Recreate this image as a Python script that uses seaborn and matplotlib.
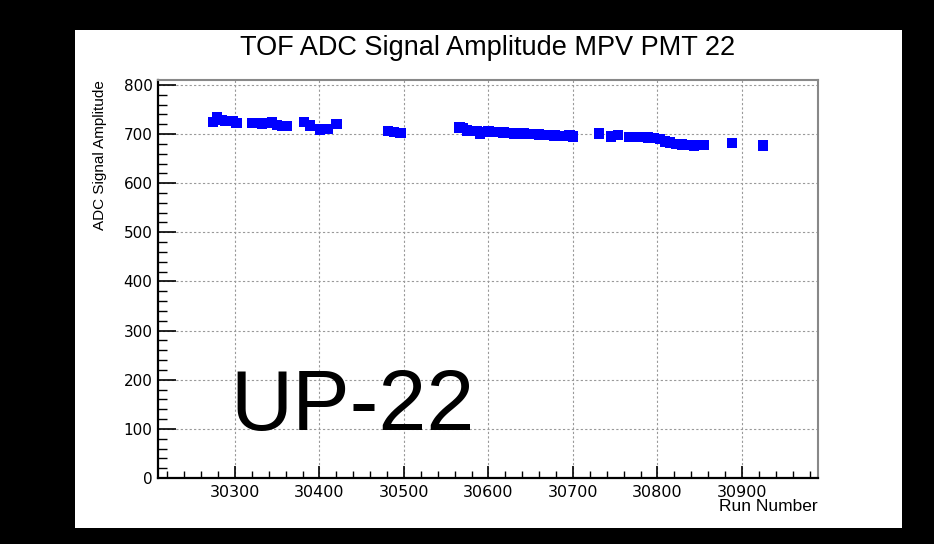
import matplotlib
matplotlib.use("Agg")
import matplotlib.pyplot as plt
from matplotlib.patches import Rectangle
from matplotlib.ticker import MultipleLocator
import seaborn as sns
import pandas as pd

# ---- data ----
runs = [30274, 30279, 30284, 30288, 30297, 30302,
        30320, 30326, 30332, 30338, 30344, 30350, 30356, 30362,
        30382, 30389, 30401, 30410, 30420,
        30481, 30488, 30496,
        30566, 30570, 30575, 30580, 30586, 30590, 30594, 30600, 30606, 30612,
        30618, 30624, 30630, 30636, 30642, 30648, 30654, 30660, 30666, 30672,
        30678, 30684, 30690, 30696, 30700,
        30731, 30745, 30753,
        30767, 30774, 30782, 30789, 30796, 30803, 30809, 30815, 30822, 30829,
        30836, 30843, 30850, 30855,
        30888, 30925]
mpv = [725, 735, 728, 727, 726, 723,
       722, 722, 721, 722, 724, 718, 716, 716,
       725, 717, 709, 710, 720,
       706, 704, 702,
       713, 712, 707, 706, 706, 700, 704, 705, 704, 704,
       703, 702, 701, 702, 701, 700, 700, 699, 698, 698,
       697, 696, 696, 697, 695,
       701, 695, 698,
       694, 694, 694, 693, 692, 690, 685, 683, 680, 679,
       678, 677, 678, 678,
       682, 677]
x_ticks = [30300, 30400, 30500, 30600, 30700, 30800, 30900]
y_ticks = [0, 100, 200, 300, 400, 500, 600, 700, 800]
title = "TOF ADC Signal Amplitude MPV PMT 22"
xlabel = "Run Number"
ylabel = "ADC Signal Amplitude"
tag = "UP-22"

df = pd.DataFrame({"run": runs, "mpv": mpv})

sns.set_style("ticks")
plt.rcParams["font.family"] = ["Liberation Sans", "DejaVu Sans"]

W, H = 934, 544
fig = plt.figure(figsize=(W / 100, H / 100), dpi=100)
fig.patch.set_facecolor("black")
fig.add_artist(Rectangle((75 / W, (H - 528) / H), (902 - 75) / W, (528 - 30) / H,
                         transform=fig.transFigure, facecolor="white",
                         edgecolor="none", zorder=-1))

ax = fig.add_axes([158 / W, (H - 478) / H, (818 - 158) / W, (478 - 80) / H])
ax.set_facecolor("white")

sns.scatterplot(data=df, x="run", y="mpv", marker="s", s=56, color="#0000ff",
                edgecolor="none", linewidth=0, ax=ax, zorder=3)

ax.set_xlim(30209, 30990)
ax.set_ylim(0, 810)
ax.set_xticks(x_ticks)
ax.set_yticks(y_ticks)
ax.xaxis.set_minor_locator(MultipleLocator(20))
ax.yaxis.set_minor_locator(MultipleLocator(20))

ax.tick_params(axis="x", which="major", direction="in", length=9, width=1.2,
               color="black", labelsize=11.5, pad=5, labelcolor="black")
ax.tick_params(axis="x", which="minor", direction="in", length=5, width=1.0, color="black")
ax.tick_params(axis="y", which="major", direction="in", length=13, width=1.2,
               color="black", labelsize=11, pad=4, labelcolor="black")
ax.tick_params(axis="y", which="minor", direction="in", length=6.5, width=1.0, color="black")
for lab in ax.get_xticklabels() + ax.get_yticklabels():
    lab.set_family("DejaVu Sans")

ax.grid(True, which="major", linestyle=(0, (2, 2)), color="#999999", linewidth=0.8)
ax.set_axisbelow(True)

for side in ("left", "bottom"):
    ax.spines[side].set_color("black")
    ax.spines[side].set_linewidth(1.6)
for side in ("top", "right"):
    ax.spines[side].set_visible(True)
    ax.spines[side].set_color("#888888")
    ax.spines[side].set_linewidth(1.5)

ax.set_title(title, fontsize=19.5, pad=18, color="black")
ax.set_xlabel(xlabel, fontsize=12.5, loc="right", color="black")
ax.xaxis.set_label_coords(1.0, -0.053)
ax.xaxis.label.set_va("top")
ax.set_ylabel(ylabel, fontsize=11, loc="top", color="black")
ax.yaxis.set_label_coords(-0.078, 1.0)

ax.text(0.109, 0.12, tag, transform=ax.transAxes, fontsize=62, color="black",
        ha="left", va="baseline")

fig.savefig("out.png", dpi=100, facecolor=fig.get_facecolor())
